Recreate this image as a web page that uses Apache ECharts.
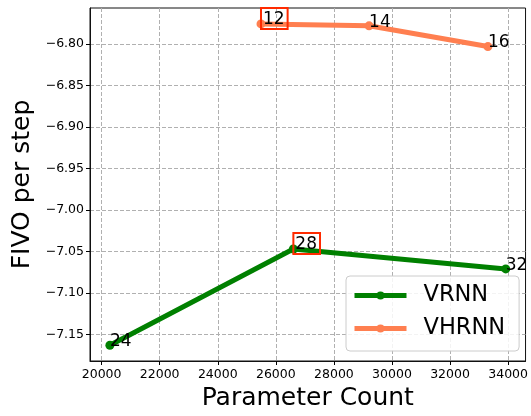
<!DOCTYPE html>
<html>
<head>
<meta charset="utf-8">
<script src="https://cdn.jsdelivr.net/npm/echarts@6/dist/echarts.min.js"></script>
<style>
html,body{margin:0;padding:0;background:#fff;}
#chart{width:531px;height:416px;}
</style>
</head>
<body>
<div id="chart"></div>
<script>
// ---- data ----
const seriesNames = ['VRNN', 'VHRNN'];
const vrnnParams = [20285, 26604, 33918];
const vrnnFivo = [-7.163, -7.047, -7.071];
const vrnnLabels = ['24', '28', '32'];
const vhrnnParams = [25489, 29211, 33304];
const vhrnnFivo = [-6.7757, -6.778, -6.803];
const vhrnnLabels = ['12', '14', '16'];
const boxedLabels = ['12', '28'];
const xTicks = [20000, 22000, 24000, 26000, 28000, 30000, 32000, 34000];
const yTicks = [-7.15, -7.10, -7.05, -7.00, -6.95, -6.90, -6.85, -6.80];
const colors = ['#008000', '#ff7f50'];

const FONT = 'DejaVu Sans';

function buildData(xs, ys, labels) {
  return xs.map((x, i) => {
    const item = { value: [x, ys[i]], name: labels[i] };
    if (boxedLabels.includes(labels[i])) {
      item.label = {
        borderColor: '#ff2a00',
        borderWidth: 2,
        padding: [3, 3, 1, 2],
        offset: [0, 5]
      };
    }
    return item;
  });
}

const pointLabel = {
  show: true,
  position: [4.5, 4.5],
  align: 'left',
  verticalAlign: 'bottom',
  offset: [0, 5],
  fontFamily: FONT,
  fontSize: 17,
  color: '#000',
  formatter: p => p.name
};

function minus(v, d) {
  return v.toFixed(d).replace('-', '\u2212');
}

const chart = echarts.init(document.getElementById('chart'), null, { renderer: 'canvas' });
chart.setOption({
  animation: false,
  backgroundColor: '#fff',
  grid: {
    left: 90, top: 8, right: 4, bottom: 53,
    show: true, borderColor: '#111', borderWidth: 1, backgroundColor: 'transparent'
  },
  legend: {
    data: seriesNames,
    orient: 'vertical',
    left: 346, top: 276,
    itemWidth: 52, itemHeight: 10, itemGap: 10,
    padding: [8, 14, 11, 6],
    backgroundColor: 'rgba(255,255,255,0.85)',
    borderColor: '#cccccc', borderWidth: 1, borderRadius: 4,
    lineStyle: { width: 5 },
    textStyle: { fontFamily: FONT, fontSize: 22.5, color: '#000', padding: [0, 0, 0, 12] }
  },
  xAxis: {
    type: 'value', min: 19600, max: 34600,
    name: 'Parameter Count', nameLocation: 'middle', nameGap: 25,
    nameTextStyle: { fontFamily: FONT, fontSize: 25, color: '#000' },
    axisLine: { show: true, onZero: false, lineStyle: { color: '#111', width: 1 } },
    axisTick: { show: true, customValues: xTicks, length: 4, lineStyle: { color: '#000' } },
    axisLabel: { customValues: xTicks, fontFamily: FONT, fontSize: 12.5, color: '#000', margin: 7,
      formatter: v => String(v) },
    splitLine: { show: true, lineStyle: { color: '#b0b0b0', type: [4, 2], width: 1 } }
  },
  yAxis: {
    type: 'value', min: -7.182, max: -6.7565,
    name: 'FIVO per step', nameLocation: 'middle', nameGap: 52, nameRotate: 90,
    nameTextStyle: { fontFamily: FONT, fontSize: 25, color: '#000' },
    axisLine: { show: true, onZero: false, lineStyle: { color: '#111', width: 1 } },
    axisTick: { show: true, customValues: yTicks, length: 4, lineStyle: { color: '#000' } },
    axisLabel: { customValues: yTicks, fontFamily: FONT, fontSize: 12.5, color: '#000', margin: 6,
      formatter: v => minus(v, 2) },
    splitLine: { show: true, lineStyle: { color: '#b0b0b0', type: [4, 2], width: 1 } }
  },
  series: [
    {
      name: seriesNames[0], type: 'line',
      data: buildData(vrnnParams, vrnnFivo, vrnnLabels),
      symbol: 'circle', symbolSize: 9,
      lineStyle: { color: colors[0], width: 5 },
      itemStyle: { color: colors[0] },
      label: pointLabel, z: 3
    },
    {
      name: seriesNames[1], type: 'line',
      data: buildData(vhrnnParams, vhrnnFivo, vhrnnLabels),
      symbol: 'circle', symbolSize: 9,
      lineStyle: { color: colors[1], width: 5 },
      itemStyle: { color: colors[1] },
      label: pointLabel, z: 4
    }
  ]
});
</script>
</body>
</html>
